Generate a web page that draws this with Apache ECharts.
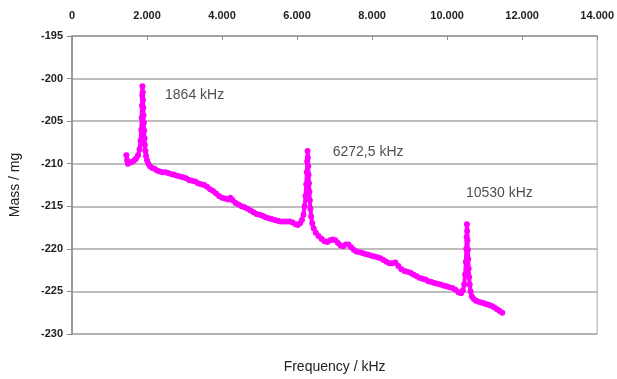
<!DOCTYPE html>
<html>
<head>
<meta charset="utf-8">
<script src="https://cdn.jsdelivr.net/npm/echarts@6/dist/echarts.min.js"></script>
<style>
  html, body { margin: 0; padding: 0; background: #fff; }
  #chart { width: 617px; height: 379px; }
</style>
</head>
<body>
<div id="chart"></div>
<script>
// frequency sweep, kHz
const freqKHz = [
  1450, 1470, 1490, 1540, 1600, 1660, 1710, 1760, 1800, 1830,
  1848, 1858, 1866, 1872, 1878, 1885, 1892, 1899, 1907, 1915,
  1923, 1932, 1943, 1957, 1975, 2000, 2035, 2080, 2140, 2200,
  2270, 2340, 2410, 2490, 2560, 2640, 2720, 2800, 2880, 2960,
  3040, 3120, 3200, 3280, 3360, 3440, 3520, 3600, 3680, 3760,
  3840, 3920, 4000, 4080, 4160, 4220, 4280, 4360, 4440, 4520,
  4600, 4680, 4760, 4840, 4920, 5000, 5080, 5160, 5240, 5320,
  5400, 5480, 5560, 5640, 5720, 5800, 5880, 5960, 6020, 6080,
  6130, 6170, 6200, 6225, 6245, 6260, 6270, 6280, 6288, 6297,
  6307, 6317, 6328, 6340, 6355, 6375, 6405, 6445, 6500, 6570,
  6650, 6730, 6810, 6880, 6950, 7020, 7090, 7160, 7230, 7300,
  7370, 7440, 7510, 7580, 7660, 7740, 7820, 7900, 7980, 8060,
  8140, 8220, 8300, 8380, 8460, 8540, 8620, 8700, 8780, 8860,
  8940, 9020, 9100, 9180, 9260, 9340, 9420, 9500, 9580, 9660,
  9740, 9820, 9900, 9980, 10060, 10140, 10220, 10300, 10370, 10420,
  10455, 10480, 10500, 10512, 10520, 10527, 10535, 10543, 10552, 10562,
  10573, 10586, 10602, 10625, 10660, 10710, 10770, 10840, 10910, 10980,
  11050, 11120, 11190, 11260, 11330, 11400, 11470
];

// measured mass, mg
const massMg = [
  -209.0, -209.6, -210.0, -209.9, -209.8, -209.6, -209.4, -209.0, -208.3, -207.3,
  -206.0, -204.6, -203.2, -202.0, -200.9, -201.6, -202.5, -203.4, -204.3, -205.2,
  -206.1, -207.0, -207.8, -208.5, -209.1, -209.6, -210.0, -210.3, -210.5, -210.6,
  -210.8, -210.9, -211.0, -211.0, -211.1, -211.2, -211.3, -211.4, -211.5, -211.6,
  -211.7, -211.9, -212.0, -212.1, -212.3, -212.4, -212.5, -212.7, -213.0, -213.2,
  -213.5, -213.8, -214.0, -214.1, -214.2, -214.0, -214.3, -214.6, -214.8, -215.0,
  -215.1, -215.3, -215.5, -215.7, -215.9, -216.0, -216.1, -216.3, -216.4, -216.5,
  -216.6, -216.7, -216.8, -216.8, -216.8, -216.8, -216.9, -217.1, -217.2, -217.0,
  -216.6, -216.0, -215.0, -213.8, -212.4, -211.0, -209.7, -208.5, -209.3, -210.3,
  -211.3, -212.3, -213.3, -214.3, -215.3, -216.2, -217.0, -217.6, -218.1, -218.5,
  -218.8, -219.1, -219.2, -219.0, -218.9, -219.0, -219.3, -219.6, -219.7, -219.5,
  -219.5, -219.8, -220.1, -220.3, -220.4, -220.5, -220.6, -220.7, -220.8, -220.9,
  -221.0, -221.1, -221.3, -221.5, -221.7, -221.7, -221.6, -222.0, -222.4, -222.6,
  -222.7, -222.8, -223.0, -223.2, -223.4, -223.5, -223.6, -223.8, -223.9, -224.0,
  -224.1, -224.2, -224.3, -224.4, -224.5, -224.6, -224.8, -225.1, -225.2, -224.9,
  -224.2, -223.0, -221.5, -220.0, -218.6, -217.1, -217.9, -219.0, -220.1, -221.2,
  -222.3, -223.3, -224.2, -225.0, -225.6, -225.9, -226.1, -226.2, -226.3, -226.4,
  -226.5, -226.6, -226.7, -226.9, -227.1, -227.3, -227.5
];

// resonance annotations: label, anchor frequency, anchor mass
const peakLabels = ['1864 kHz', '6272,5 kHz', '10530 kHz'];
const peakLabelX = [2480, 6950, 10500];
const peakLabelY = [-201.9, -208.6, -213.4];

const xTicks = [0, 2000, 4000, 6000, 8000, 10000, 12000, 14000];

const chart = echarts.init(document.getElementById('chart'));

const sweep = freqKHz.map((f, i) => [f, massMg[i]]);
const notes = peakLabels.map((t, i) => ({ value: [peakLabelX[i], peakLabelY[i]], name: t }));

const fmtThousands = (v) => (v === 0 ? '0' : Math.round(v / 1000) + '.000');

chart.setOption({
  animation: false,
  textStyle: { fontFamily: 'Liberation Sans, Arial, sans-serif' },
  grid: {
    left: 71, right: 19, top: 36, bottom: 38,
    show: true, borderColor: '#a8a8a8', borderWidth: 1
  },
  xAxis: [
    {
      type: 'value',
      position: 'top',
      min: 0, max: 14000, interval: 2000,
      axisLine: { show: true, lineStyle: { color: '#a0a0a0', width: 1.5 } },
      axisTick: { show: true, inside: true, length: 4, lineStyle: { color: '#909090' } },
      axisLabel: {
        color: '#222', fontSize: 11, fontWeight: 'bold', margin: 15,
        formatter: fmtThousands,
        customValues: xTicks
      },
      splitLine: { show: false }
    },
    {
      type: 'value',
      position: 'bottom',
      min: 0, max: 14000,
      name: 'Frequency / kHz',
      nameLocation: 'middle',
      nameGap: 26,
      nameTextStyle: { color: '#222', fontSize: 14 },
      axisLine: { show: false },
      axisTick: { show: false },
      axisLabel: { show: false },
      splitLine: { show: false }
    }
  ],
  yAxis: {
    type: 'value',
    min: -230, max: -195, interval: 5,
    name: 'Mass / mg',
    nameLocation: 'middle',
    nameGap: 50,
    nameTextStyle: { color: '#222', fontSize: 14 },
    axisLine: { show: true, lineStyle: { color: '#888', width: 1.5 } },
    axisTick: { show: true, length: 5, lineStyle: { color: '#888' } },
    axisLabel: { color: '#222', fontSize: 11, fontWeight: 'bold', margin: 9 },
    splitLine: { show: true, lineStyle: { color: '#a8a8a8', width: 1.5 } }
  },
  series: [
    {
      type: 'line',
      data: sweep,
      symbol: 'circle',
      symbolSize: 6,
      showAllSymbol: true,
      lineStyle: { color: '#ff00ff', width: 4 },
      itemStyle: { color: '#ff00ff' }
    },
    {
      type: 'scatter',
      data: notes,
      symbolSize: 0,
      label: {
        show: true,
        position: 'right',
        distance: 0,
        formatter: (p) => p.name,
        color: '#222',
        fontSize: 14
      }
    }
  ]
});
</script>
</body>
</html>
